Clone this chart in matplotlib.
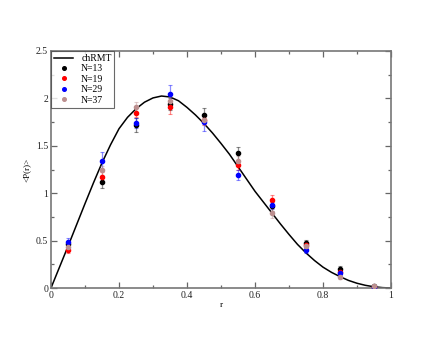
import matplotlib
matplotlib.use("Agg")
import matplotlib.pyplot as plt
from matplotlib.ticker import MultipleLocator
from matplotlib.lines import Line2D

# chRMT curve values
curve_r = [0.0, 0.025, 0.05, 0.075, 0.1, 0.125, 0.15, 0.175, 0.2, 0.225, 0.25, 0.275, 0.3,
           0.325, 0.35, 0.375, 0.4, 0.425, 0.45, 0.475, 0.5, 0.525, 0.55, 0.575, 0.6,
           0.625, 0.65, 0.675, 0.7, 0.725, 0.75, 0.775, 0.8, 0.825, 0.85, 0.875, 0.9,
           0.925, 0.95, 0.975, 1.0]
curve_p = [0.0, 0.22, 0.44, 0.665, 0.89, 1.11, 1.32, 1.51, 1.68, 1.80, 1.89, 1.96, 2.005,
           2.025, 2.015, 1.975, 1.905, 1.825, 1.735, 1.635, 1.525, 1.41, 1.28, 1.15, 1.02,
           0.905, 0.79, 0.675, 0.565, 0.46, 0.37, 0.29, 0.22, 0.165, 0.12, 0.08, 0.05,
           0.028, 0.013, 0.004, 0.0]

r_pts = [0.05, 0.15, 0.25, 0.35, 0.45, 0.55, 0.65, 0.75, 0.85, 0.95]
p_n13 = [0.46, 1.12, 1.72, 1.94, 1.82, 1.42, 0.86, 0.47, 0.20, 0.02]
p_n19 = [0.40, 1.175, 1.85, 1.91, 1.77, 1.30, 0.93, 0.455, 0.17, 0.015]
p_n29 = [0.49, 1.34, 1.74, 2.05, 1.75, 1.19, 0.88, 0.40, 0.155, 0.015]
p_n37 = [0.43, 1.24, 1.91, 1.97, 1.77, 1.34, 0.79, 0.44, 0.12, 0.02]
e_n13 = [0.04, 0.06, 0.07, 0.06, 0.08, 0.07, 0.05, 0.04, 0.03, 0.01]
e_n19 = [0.03, 0.05, 0.05, 0.07, 0.05, 0.05, 0.05, 0.03, 0.02, 0.01]
e_n29 = [0.04, 0.09, 0.05, 0.09, 0.09, 0.05, 0.05, 0.03, 0.02, 0.01]
e_n37 = [0.03, 0.05, 0.05, 0.05, 0.05, 0.05, 0.05, 0.03, 0.02, 0.01]

labels = ["N=13", "N=19", "N=29", "N=37"]
colors = ["#000000", "#ff0000", "#0000ff", "#bc8f8f"]

plt.rcParams['font.family'] = ['Liberation Serif', 'DejaVu Serif']

fig = plt.figure(figsize=(4.4, 3.4), dpi=100)
ax = fig.add_axes([51/440, 1-288/340, 340/440, 237/340])

ax.plot(curve_r, curve_p, color="black", lw=1.1, zorder=2)
for p, e, c in zip([p_n13, p_n19, p_n29, p_n37], [e_n13, e_n19, e_n29, e_n37], colors):
    ax.errorbar(r_pts, p, yerr=e, fmt='none', ecolor=c, alpha=0.45,
                elinewidth=0.9, capsize=1.2, capthick=0.8, zorder=3)
    ax.plot(r_pts, p, 'o', color=c, ms=3.0, mec=c, zorder=4)

ax.set_xlim(0, 1)
ax.set_ylim(0, 2.5)
ax.xaxis.set_minor_locator(MultipleLocator(0.1))
ax.yaxis.set_minor_locator(MultipleLocator(0.25))
ax.set_xticks([0, 0.2, 0.4, 0.6, 0.8, 1.0])
ax.set_xticklabels(["0", "0.2", "0.4", "0.6", "0.8", "1"])
ax.set_yticks([0, 0.5, 1.0, 1.5, 2.0, 2.5])
ax.set_yticklabels(["0", "0.5", "1", "1.5", "2", "2.5"])
ax.tick_params(which='both', direction='in', top=True, right=True, colors='#666666',
               labelcolor='#222222', labelsize=7, width=0.9, pad=2)
ax.tick_params(which='major', length=4)
ax.tick_params(which='minor', length=2.5)
for s in ax.spines.values():
    s.set_color('#777777')
    s.set_linewidth(1.2)

ax.set_xlabel("r", fontsize=6.5, labelpad=1)
ax.set_ylabel("<P(r)>", fontsize=6.5, labelpad=4)

handles = [Line2D([], [], color='black', lw=1.1)]
handles += [Line2D([], [], ls='none', marker='o', color=c, ms=2.6) for c in colors]
leg = ax.legend(handles, ["chRMT"] + labels, loc='upper left', fontsize=7, frameon=True,
                fancybox=False, borderaxespad=0.0, handlelength=2.0, handletextpad=0.8,
                labelspacing=0.15, borderpad=0.3)
leg.get_frame().set_edgecolor('#444444')
leg.get_frame().set_linewidth(0.8)

fig.savefig("out.png", dpi=100)
